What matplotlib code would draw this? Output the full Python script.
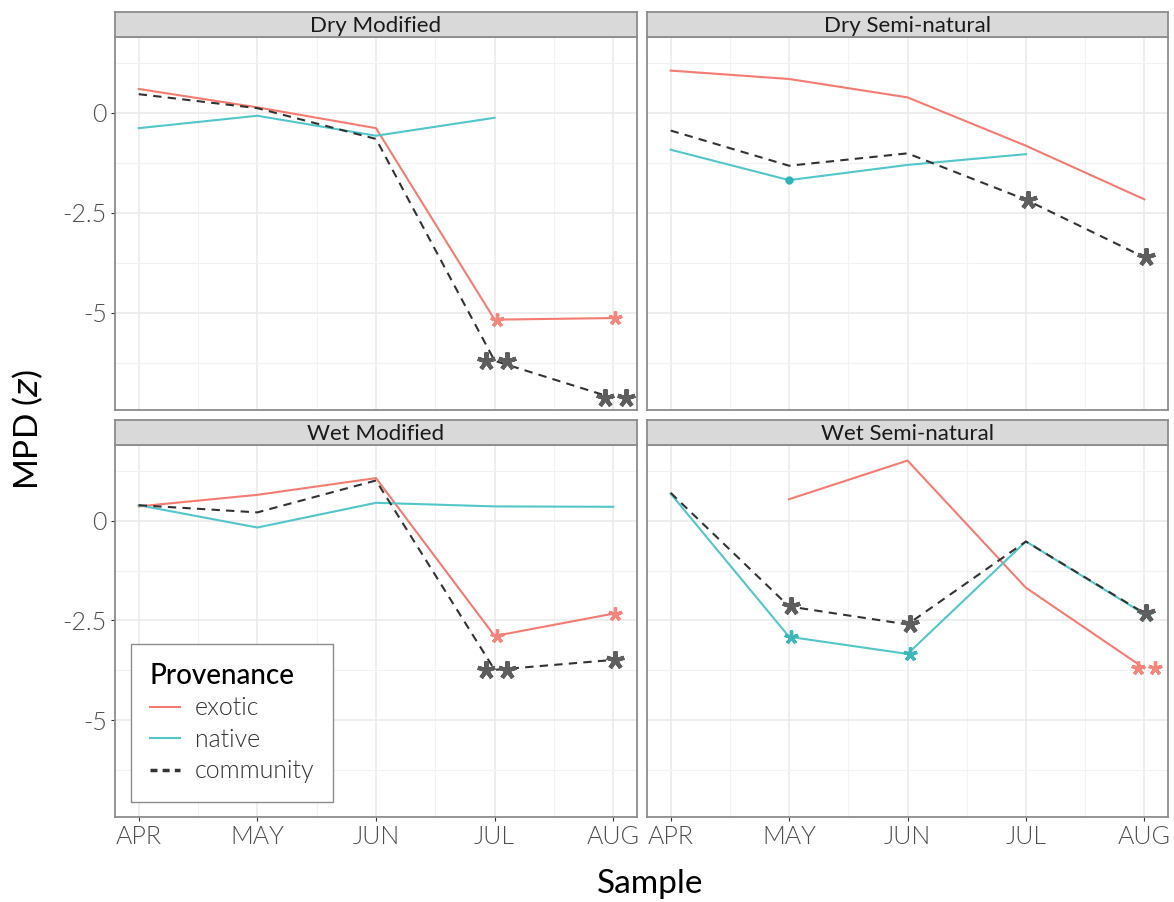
import numpy as np
import matplotlib
matplotlib.use('Agg')
import matplotlib.pyplot as plt
from matplotlib.transforms import offset_copy
from matplotlib.lines import Line2D

plt.rcParams.update({'font.family': ['Lato', 'DejaVu Sans'],
                     'font.weight': 300,
                     'axes.unicode_minus': False})

nan = np.nan

months = ['APR', 'MAY', 'JUN', 'JUL', 'AUG']
month_num = [4, 5, 6, 7, 8]
panels = ['Dry Modified', 'Dry Semi-natural', 'Wet Modified', 'Wet Semi-natural']
ytick_vals = [0, -2.5, -5]
ytick_labels = ['0', '-2.5', '-5']

# MPD (z) values, APR..AUG
dry_mod_exotic = [0.60, 0.14, -0.38, -5.17, -5.13]
dry_mod_native = [-0.38, -0.07, -0.57, -0.12, nan]
dry_mod_comm = [0.47, 0.12, -0.65, -6.20, -7.13]

dry_semi_exotic = [1.06, 0.85, 0.39, -0.82, -2.16]
dry_semi_native = [-0.92, -1.68, -1.30, -1.03, nan]
dry_semi_comm = [-0.44, -1.32, -1.01, -2.17, -3.61]

wet_mod_exotic = [0.36, 0.65, 1.07, -2.89, -2.33]
wet_mod_native = [0.39, -0.17, 0.45, 0.36, 0.35]
wet_mod_comm = [0.39, 0.21, 1.01, -3.74, -3.49]

wet_semi_exotic = [nan, 0.54, 1.51, -1.68, -3.70]
wet_semi_native = [0.68, -2.91, -3.34, -0.52, -2.34]
wet_semi_comm = [0.70, -2.15, -2.60, -0.52, -2.32]

# significance stars
dry_mod_exotic_sig = ['', '', '', '*', '*']
dry_mod_native_sig = ['', '', '', '', '']
dry_mod_comm_sig = ['', '', '', '**', '**']

dry_semi_exotic_sig = ['', '', '', '', '']
dry_semi_native_sig = ['', '', '', '', '']
dry_semi_comm_sig = ['', '', '', '*', '*']

wet_mod_exotic_sig = ['', '', '', '*', '*']
wet_mod_native_sig = ['', '', '', '', '']
wet_mod_comm_sig = ['', '', '', '**', '*']

wet_semi_exotic_sig = ['', '', '', '', '**']
wet_semi_native_sig = ['', '*', '*', '', '*']
wet_semi_comm_sig = ['', '*', '*', '', '*']

# isolated point drawn on the native series
dry_semi_native_dot = [False, True, False, False, False]

series = ['exotic', 'native', 'community']
line_colors = {'exotic': '#F47B72', 'native': '#52C6C9', 'community': '#333333'}
star_colors = {'exotic': '#F4867E', 'native': '#3DB7BB', 'community': '#5E5E5E'}
star_sizes = {'exotic': 10, 'native': 10, 'community': 13}

panel_data = {
    'Dry Modified': [dry_mod_exotic, dry_mod_native, dry_mod_comm],
    'Dry Semi-natural': [dry_semi_exotic, dry_semi_native, dry_semi_comm],
    'Wet Modified': [wet_mod_exotic, wet_mod_native, wet_mod_comm],
    'Wet Semi-natural': [wet_semi_exotic, wet_semi_native, wet_semi_comm],
}
panel_sig = {
    'Dry Modified': [dry_mod_exotic_sig, dry_mod_native_sig, dry_mod_comm_sig],
    'Dry Semi-natural': [dry_semi_exotic_sig, dry_semi_native_sig, dry_semi_comm_sig],
    'Wet Modified': [wet_mod_exotic_sig, wet_mod_native_sig, wet_mod_comm_sig],
    'Wet Semi-natural': [wet_semi_exotic_sig, wet_semi_native_sig, wet_semi_comm_sig],
}

W, H = 1174, 902
fig = plt.figure(figsize=(W / 100, H / 100), dpi=100)

# panel boxes in pixels (left, top, right, bottom)
boxes = [(115, 37, 637, 410), (647, 37, 1168, 410),
         (115, 445, 637, 817), (647, 445, 1168, 817)]
strip_h = 25
edge = '#8C8C8C'

axes = []
for i, name in enumerate(panels):
    l, t, r, b = boxes[i]
    ax = fig.add_axes([l / W, 1 - b / H, (r - l) / W, (b - t) / H])
    sax = fig.add_axes([l / W, 1 - t / H, (r - l) / W, strip_h / H])
    sax.set_facecolor('#D9D9D9')
    sax.set_xticks([])
    sax.set_yticks([])
    for s in sax.spines.values():
        s.set_color(edge)
        s.set_linewidth(1.3)
    sax.text(0.5, 0.45, name, ha='center', va='center', fontsize=16,
             fontweight='normal', color='#1A1A1A', transform=sax.transAxes)

    ax.set_xlim(3.8, 8.2)
    ax.set_ylim(-7.43, 1.9)
    ax.set_xticks(month_num)
    ax.set_xticks([4.5, 5.5, 6.5, 7.5], minor=True)
    ax.set_yticks(ytick_vals)
    ax.set_yticks([1.25, -1.25, -3.75, -6.25], minor=True)
    ax.grid(which='major', color='#EBEBEB', lw=1.2, zorder=0)
    ax.grid(which='minor', color='#F2F2F2', lw=0.8, zorder=0)
    ax.set_axisbelow(True)
    for s in ax.spines.values():
        s.set_color(edge)
        s.set_linewidth(1.3)
    ax.tick_params(which='minor', length=0)
    ax.tick_params(which='major', length=3, color='#333333', labelsize=18,
                   labelcolor='#4D4D4D', pad=3)
    if i >= 2:
        ax.set_xticklabels(months)
    else:
        ax.tick_params(axis='x', length=0, labelbottom=False)
    if i % 2 == 0:
        ax.set_yticklabels(ytick_labels)
    else:
        ax.tick_params(axis='y', length=0, labelleft=False)

    for k, key in enumerate(series):
        vals = panel_data[name][k]
        ls = '--' if key == 'community' else '-'
        ax.plot(month_num, vals, color=line_colors[key], lw=1.5, ls=ls,
                dashes=(4, 3) if key == 'community' else (None, None), zorder=3)

    # stars on top
    for k, key in enumerate(series):
        vals = panel_data[name][k]
        sig = panel_sig[name][k]
        sz = star_sizes[key]
        gap = 7.5 if key == 'community' else 6
        for xm, yv, lab in zip(month_num, vals, sig):
            n = len(lab)
            if n == 0:
                continue
            offs = [0.0] if n == 1 else [-gap, gap]
            for o in offs:
                tr = offset_copy(ax.transData, fig=fig, x=o + 1.5, y=0, units='points')
                ax.plot([xm], [yv], transform=tr, marker=(5, 2, 0), ms=sz,
                        mew=3 if key == 'community' else 2.4,
                        color=star_colors[key], ls='none', zorder=5,
                        clip_on=False)
    if name == 'Dry Semi-natural':
        for xm, yv, d in zip(month_num, dry_semi_native, dry_semi_native_dot):
            if d:
                ax.plot([xm], [yv], 'o', ms=5, color='#2FB3B7', zorder=4)
    axes.append(ax)

handles = [Line2D([], [], color=line_colors['exotic'], lw=1.5),
           Line2D([], [], color=line_colors['native'], lw=1.5),
           Line2D([], [], color=line_colors['community'], lw=2.5, ls=(0, (2, 1.5)))]
leg = axes[2].legend(handles, series, title='Provenance', loc='lower left',
                     bbox_to_anchor=(0.031, 0.04), borderaxespad=0,
                     fontsize=18, title_fontsize=20, handlelength=1.2,
                     handletextpad=0.6, labelspacing=0.3, fancybox=False,
                     framealpha=1, edgecolor='#8C8C8C', borderpad=0.75,
                     alignment='left')
leg.get_frame().set_linewidth(1.0)
leg.get_title().set_fontweight(500)
for t in leg.get_texts():
    t.set_color('#333333')

fig.text(28 / W, 1 - 430 / H, 'MPD ($z$)', rotation=90, ha='center', va='center',
         fontsize=24, fontweight='normal')
fig.text(650 / W, 1 - 884 / H, 'Sample', ha='center', va='center',
         fontsize=24, fontweight='normal')

fig.savefig('out.png', dpi=100)
